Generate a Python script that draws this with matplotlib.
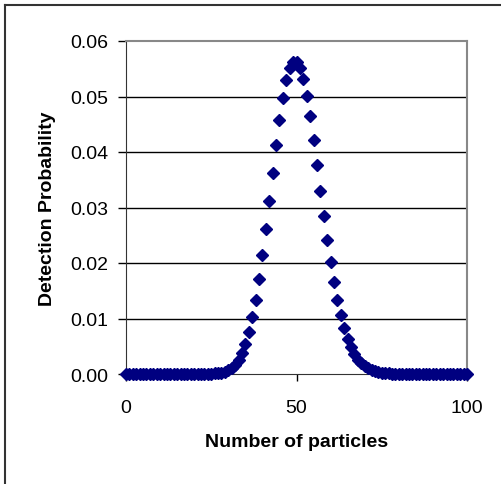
import numpy as np
import matplotlib.pyplot as plt
from matplotlib.lines import Line2D

plt.rcParams['font.family'] = ['Liberation Sans', 'DejaVu Sans']

# number of particles 0..100
particles = np.arange(0, 101)

# detection probability
prob = [0.0] * 26 + [
    0.0001, 0.0001, 0.0002, 0.0004, 0.0007, 0.0011, 0.0017, 0.0026, 0.0038, 0.0054,  # 26-35
    0.0076, 0.0102, 0.0134, 0.0172, 0.0215, 0.0262, 0.0312, 0.0363, 0.0412, 0.0458,  # 36-45
    0.0498, 0.0530, 0.0552, 0.0563, 0.0563, 0.0552, 0.0531, 0.0501, 0.0464, 0.0422,  # 46-55
    0.0377, 0.0330, 0.0285, 0.0241, 0.0201, 0.0165, 0.0133, 0.0106, 0.0082, 0.0063,  # 56-65
    0.0048, 0.0036, 0.0026, 0.0019, 0.0014, 0.0010, 0.0007, 0.0005, 0.0003, 0.0002,  # 66-75
    0.0001, 0.0001,  # 76-77
] + [0.0] * 23

y_ticks = [0.00, 0.01, 0.02, 0.03, 0.04, 0.05, 0.06]
x_ticks = [0, 50, 100]

W, H = 501, 485
fig = plt.figure(figsize=(W / 100, H / 100), dpi=100)
ax = fig.add_axes([126 / W, 1 - 375 / H, (467 - 126) / W, (375 - 42) / H])

ax.plot(particles, prob, linestyle='none', marker='D', markersize=6,
        color='#000080', clip_on=False, zorder=3)

ax.set_xlim(0, 100)
ax.set_ylim(0, 0.06)
ax.set_yticks(y_ticks)
ax.set_yticklabels(['%.2f' % v for v in y_ticks])
ax.set_xticks(x_ticks)

for v in y_ticks[1:-1]:
    ax.axhline(v, color='black', linewidth=1, zorder=1)

ax.spines['top'].set_color('#888888')
ax.spines['right'].set_color('#888888')
ax.spines['top'].set_linewidth(1.5)
ax.spines['right'].set_linewidth(1.5)
ax.spines['left'].set_color('#333333')
ax.spines['bottom'].set_color('#333333')

ax.tick_params(axis='y', direction='out', length=6, width=1, pad=7, labelsize=14)
ax.tick_params(axis='x', direction='out', length=5, width=1, pad=13, labelsize=14)

ax.set_ylabel('Detection Probability', fontsize=14, fontweight='bold', labelpad=10)
ax.set_xlabel('Number of particles', fontsize=14, fontweight='bold', labelpad=12)
ax.xaxis.label.set_fontstretch('expanded')

# outer chart frame
fig.add_artist(Line2D([5 / W, 1], [1 - 5.5 / H, 1 - 5.5 / H], color='#333333', linewidth=1.5))
fig.add_artist(Line2D([5 / W, 5 / W], [0, 1 - 5.5 / H], color='#333333', linewidth=1.5))

fig.savefig('out.png', dpi=100)
